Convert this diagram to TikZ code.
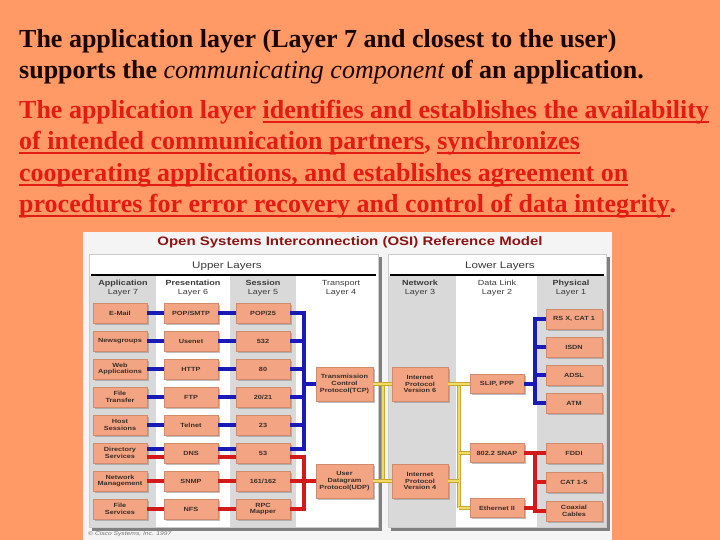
\documentclass[tikz,border=0pt]{standalone}
\usepackage{fontspec}
\setmainfont{Liberation Serif}
\newfontfamily\osi[FakeStretch=1.22]{Liberation Sans}
\newcommand\myul[1]{\setbox0\hbox{#1}\rlap{\rule[-3.8pt]{\wd0}{1.6pt}}\box0}
\usetikzlibrary{shadows}
\definecolor{bg}{HTML}{FF9966}
\definecolor{blk}{HTML}{1A0500}
\definecolor{rtx}{HTML}{E31B12}
\definecolor{imgbg}{HTML}{F4F4F4}
\definecolor{colgray}{HTML}{D9D9D9}
\definecolor{salmon}{HTML}{F3A483}
\definecolor{boxedge}{HTML}{D08A6C}
\definecolor{boxtxt}{HTML}{3A2E28}
\definecolor{lnblue}{HTML}{1A1AB8}
\definecolor{lnred}{HTML}{D21A1A}
\definecolor{lnyel}{HTML}{C9A630}
\definecolor{lnyelin}{HTML}{F0DA68}
\definecolor{titlered}{HTML}{8E1212}
\definecolor{hdrc}{HTML}{3A3A3A}
\begin{document}
\begin{tikzpicture}[x=1pt,y=-1pt,
  txt/.style={anchor=base west, inner sep=0pt, text=blk, font=\fontsize{26}{30}\selectfont\bfseries},
  rtxt/.style={anchor=base west, inner sep=0pt, text=rtx, font=\fontsize{26}{30}\selectfont\bfseries},
  box/.style={draw=boxedge, fill=salmon, line width=0.5pt, minimum width=54pt, minimum height=20pt,
    inner sep=0pt, align=center, text=boxtxt, font=\osi\bfseries\fontsize{6}{6.8}\selectfont,
    drop shadow={shadow xshift=1.5pt, shadow yshift=-1.5pt, fill=black!45, opacity=.55}},
  bigbox/.style={box, minimum width=57pt, minimum height=34pt},
  dlbox/.style={box, minimum height=19pt},
  phbox/.style={box, minimum width=56pt},
  hdr/.style={align=center, inner sep=0pt, text=hdrc, font=\osi\fontsize{7.4}{9}\selectfont},
  bl/.style={draw=lnblue, line width=3.6pt},
  rd/.style={draw=lnred, line width=3.6pt},
  yl/.style={draw=lnyel, double=lnyelin, double distance=1.8pt, line width=1pt}]
\path[use as bounding box] (0,0) rectangle (720,540);
\fill[bg] (0,0) rectangle (720,540);

% ---- top text ----
\node[txt] (l1) at (19,48) {The application layer (Layer 7 and closest to the user)};
\node[txt] (l2) at (19,79) {supports the {\mdseries\itshape communicating component} of an application.};
\node[rtxt] (r1) at (19,119) {The application layer \myul{identifies and establishes the availability}};
\node[rtxt] (r2) at (19,150) {\myul{of intended communication partners}, \myul{synchronizes}};
\node[rtxt] (r3) at (19,182) {\myul{cooperating applications, and establishes agreement on}};
\node[rtxt] (r4) at (19,213) {\myul{procedures for error recovery and control of data integrity}.};

% ---- OSI picture ----
\fill[imgbg] (83,232) rectangle (612,540);
\node[font=\osi\bfseries\fontsize{12.3}{12.3}\selectfont, text=titlered, inner sep=0pt] (title) at (350,242)
  {Open Systems Interconnection (OSI) Reference Model};

% panels
\fill[black!50] (92,257) rectangle (382,531);
\filldraw[fill=white, draw=black!20] (89,254) rectangle (378,527);
\fill[black!50] (391,257) rectangle (610,531);
\filldraw[fill=white, draw=black!20] (388,254) rectangle (606,527);
% gray columns
\fill[colgray] (89.5,276) rectangle (156,526.5);
\fill[colgray] (230,276) rectangle (296,526.5);
\fill[colgray] (388.5,276) rectangle (456,526.5);
\fill[colgray] (537,276) rectangle (605.5,526.5);
% rules
\draw[line width=1.3pt] (91,275) -- (376,275);
\draw[line width=1.3pt] (390,275) -- (604,275);

\node[font=\osi\fontsize{9.5}{10}\selectfont, text=hdrc, inner sep=0pt] (upl) at (227,266) {Upper Layers};
\node[font=\osi\fontsize{9.5}{10}\selectfont, text=hdrc, inner sep=0pt] (lol) at (500,266) {Lower Layers};

\node[hdr] (h7) at (123,288.5) {\bfseries Application\\Layer 7};
\node[hdr] (h6) at (193,288.5) {\bfseries Presentation\\Layer 6};
\node[hdr] (h5) at (263,288.5) {\bfseries Session\\Layer 5};
\node[hdr] (h4) at (341,288.5) {Transport\\Layer 4};
\node[hdr] (h3) at (420,288.5) {\bfseries Network\\Layer 3};
\node[hdr] (h2) at (497,288.5) {Data Link\\Layer 2};
\node[hdr] (h1) at (571,288.5) {\bfseries Physical\\Layer 1};

% application column
\node[box] (a1) at (120,313) {E-Mail};
\node[box] (a2) at (120,341) {Newsgroups};
\node[box] (a3) at (120,369) {Web\\Applications};
\node[box] (a4) at (120,397) {File\\Transfer};
\node[box] (a5) at (120,425) {Host\\Sessions};
\node[box] (a6) at (120,453) {Directory\\Services};
\node[box] (a7) at (120,481) {Network\\Management};
\node[box] (a8) at (120,509) {File\\Services};
% presentation column
\node[box] (p1) at (191,313) {POP/SMTP};
\node[box] (p2) at (191,341) {Usenet};
\node[box] (p3) at (191,369) {HTTP};
\node[box] (p4) at (191,397) {FTP};
\node[box] (p5) at (191,425) {Telnet};
\node[box] (p6) at (191,453) {DNS};
\node[box] (p7) at (191,481) {SNMP};
\node[box] (p8) at (191,509) {NFS};
% session column
\node[box] (s1) at (263,313) {POP/25};
\node[box] (s2) at (263,341) {532};
\node[box] (s3) at (263,369) {80};
\node[box] (s4) at (263,397) {20/21};
\node[box] (s5) at (263,425) {23};
\node[box] (s6) at (263,453) {53};
\node[box] (s7) at (263,481) {161/162};
\node[box] (s8) at (263,509) {RPC\\Mapper};
% transport / network
\node[bigbox] (tcp) at (344.5,384) {Transmission\\Control\\Protocol(TCP)};
\node[bigbox] (udp) at (344.5,481) {User\\Datagram\\Protocol(UDP)};
\node[bigbox, minimum width=56pt] (ip6) at (420,384) {Internet\\Protocol\\Version 6};
\node[bigbox, minimum width=56pt] (ip4) at (420,481) {Internet\\Protocol\\Version 4};
% data link
\node[dlbox] (slip) at (497,384) {SLIP, PPP};
\node[dlbox] (snap) at (497,453) {802.2 SNAP};
\node[dlbox] (eth) at (497,508) {Ethernet II};
% physical
\node[phbox] (ph1) at (574,319) {RS X, CAT 1};
\node[phbox] (ph2) at (574,347) {ISDN};
\node[phbox] (ph3) at (574,375) {ADSL};
\node[phbox] (ph4) at (574,403) {ATM};
\node[phbox] (ph5) at (574,453) {FDDI};
\node[phbox] (ph6) at (574,482) {CAT 1-5};
\node[phbox] (ph7) at (574,511) {Coaxial\\Cables};

% bus x positions
\coordinate (ubx) at (304,0);
\coordinate (yb1) at (383,0);
\coordinate (yb2) at (459,0);
\coordinate (pbx) at (535,0);

% upper connectors
\foreach \k in {1,...,5} {
  \draw[bl] (a\k.east) -- (p\k.west);
  \draw[bl] (p\k.east) -- (s\k.west);
  \draw[bl] (s\k.east) -- (s\k.east -| ubx);
}
\draw[bl] ([yshift=4pt]a6.east) -- ([yshift=4pt]p6.west);
\draw[bl] ([yshift=4pt]p6.east) -- ([yshift=4pt]s6.west);
\draw[rd] ([yshift=-4pt]a6.east) -- ([yshift=-4pt]p6.west);
\draw[rd] ([yshift=-4pt]p6.east) -- ([yshift=-4pt]s6.west);
\foreach \k in {7,8} {
  \draw[rd] (a\k.east) -- (p\k.west);
  \draw[rd] (p\k.east) -- (s\k.west);
}
\draw[bl] (s1.east) -| ([yshift=4pt]s6.east -| ubx) -- ([yshift=4pt]s6.east);
\draw[bl] (tcp.west -| ubx) -- (tcp.west);
\draw[rd] ([yshift=-4pt]s6.east) -| (s8.east -| ubx) -- (s8.east);
\draw[rd] (s7.east) -- (udp.west);

% yellow connectors
\draw[yl] (tcp.east -| yb1) -- (udp.east -| yb1);
\draw[yl] (tcp.east) -- (ip6.west);
\draw[yl] (udp.east) -- (ip4.west);
\draw[yl] (slip.west -| yb2) -- (eth.west -| yb2);
\draw[yl] (ip6.east) -- (slip.west);
\draw[yl] (ip4.east) -- (ip4.east -| yb2);
\draw[yl] (snap.west -| yb2) -- (snap.west);
\draw[yl] (eth.west -| yb2) -- (eth.west);

% lower connectors
\draw[bl] (slip.east) -- (slip.east -| pbx);
\draw[bl] (ph1.west) -| (ph4.west -| pbx) -- (ph4.west);
\draw[bl] (ph2.west -| pbx) -- (ph2.west);
\draw[bl] (ph3.west -| pbx) -- (ph3.west);
\draw[rd] (ph5.west) -| (ph7.west -| pbx) -- (ph7.west);
\draw[rd] (snap.east) -- (snap.east -| pbx);
\draw[rd] (ph6.west -| pbx) -- (ph6.west);
\draw[rd] (eth.east) -- (eth.east -| pbx);

\node[anchor=west, inner sep=0pt, text=black!55, font=\osi\itshape\fontsize{5.5}{6}\selectfont] (cp) at (88,534)
  {\textcopyright\ Cisco Systems, Inc. 1997};
\end{tikzpicture}
\end{document}
